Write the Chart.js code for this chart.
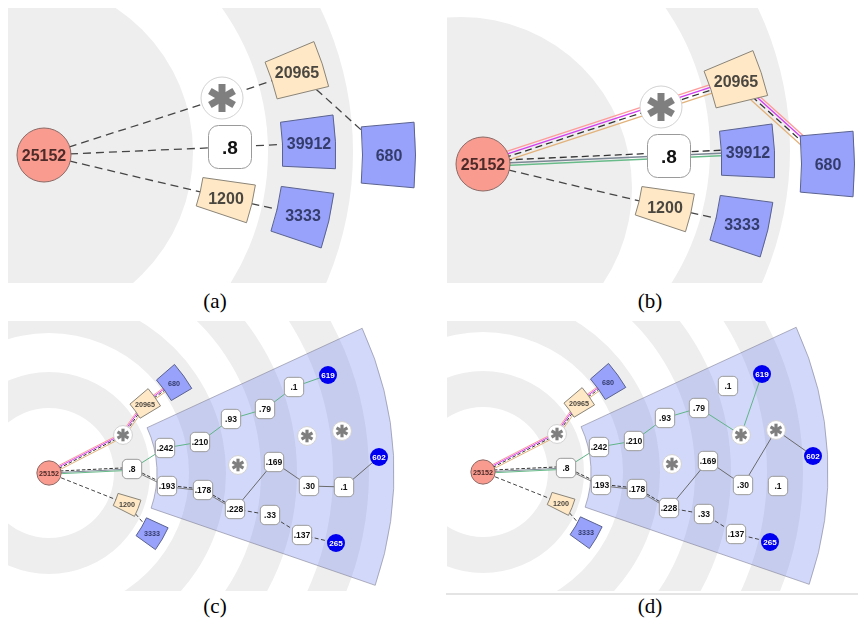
<!DOCTYPE html>
<html lang="fr">
<head>
<meta charset="utf-8">
<title>Arbres radiaux (a)-(d)</title>
<script src="https://cdn.jsdelivr.net/npm/chart.js@4.4.1/dist/chart.umd.min.js"></script>
<style>
  html, body { margin: 0; padding: 0; background: #fff; }
  body { position: relative; width: 858px; height: 629px; overflow: hidden; }
  canvas { position: absolute; }
  .legende { position: absolute; width: 80px; margin-left: -40px; text-align: center;
             font-family: "Liberation Serif", "Times New Roman", serif; font-size: 21px; line-height: 24px; color: #000; }
  .filet { position: absolute; left: 446px; top: 593px; width: 412px; height: 2px; background: #e4e4e4; }
</style>
</head>
<body>
<canvas id="panneauA"></canvas>
<canvas id="panneauB"></canvas>
<canvas id="panneauC"></canvas>
<canvas id="panneauD"></canvas>
<div class="filet"></div>
<div class="legende" style="left:215px; top:289px">(a)</div>
<div class="legende" style="left:650px; top:289px">(b)</div>
<div class="legende" style="left:215px; top:594px">(c)</div>
<div class="legende" style="left:650px; top:594px">(d)</div>
<script>
/* ==========================================================================
   1. DONNÉES (coordonnées relatives au noeud racine, en px)
   ========================================================================== */

// Panneaux (a) et (b) : même disposition des noeuds
const noeudsAB = ['25152', '*', '20965', '.8', '39912', '680', '1200', '3333'];
const genresAB = ['racine', 'etoile', 'beige', 'valeur', 'bleu', 'bleu', 'beige', 'bleu'];
const xAB = [0, 178, 253, 186, 265, 345, 182, 259];
const yAB = [0, -57, -83, -8, -12, 0, 43, 60];

const aretesA = [[0, 1, 'tirets'], [1, 2, 'tirets'], [2, 5, 'tirets'], [0, 3, 'tirets'],
                 [3, 4, 'tirets'], [0, 6, 'tirets'], [6, 7, 'tirets']];
const aretesB = [[0, 2, 'rose'], [2, 5, 'rose'], [0, 4, 'vertGris'], [0, 6, 'tirets'], [6, 7, 'tirets']];

// Panneaux (c) et (d)
const noeudsCD = ['25152', '*', '20965', '680', '.8', '1200', '3333', '.242', '.210', '.193', '.178',
                  '.93', '.79', '.1', '619', '*', '*', '*', '.169', '.30', '.1', '602',
                  '.228', '.33', '.137', '265'];
const genresCD = ['racine', 'etoile', 'beige', 'bleu', 'valeur', 'beige', 'bleu', 'valeur', 'valeur', 'valeur', 'valeur',
                  'valeur', 'valeur', 'valeur', 'feuille', 'etoile', 'etoile', 'etoile', 'valeur', 'valeur', 'valeur', 'feuille',
                  'valeur', 'valeur', 'valeur', 'feuille'];
const xCD = [0, 74, 96, 125, 83, 78, 103, 116, 151, 118, 154, 182, 216, 245, 279, 189, 258, 293, 225, 260, 295, 330, 186, 221, 253, 287];
const yCD = [0, -38, -69, -90, -4, 31, 60, -25, -31, 13, 17, -54, -64, -86, -98, -8, -37, -42, -11, 13, 14, -16, 36, 42, 62, 70];

const aretesC = [[0, 1, 'rose'], [1, 2, 'rose'], [2, 3, 'rose'], [0, 4, 'vertGris'], [0, 5, 'tirets'], [5, 6, 'tirets'],
                 [4, 7, 'vert'], [7, 8, 'vert'], [8, 11, 'vert'], [11, 12, 'vert'], [12, 13, 'vert'], [13, 14, 'vert'],
                 [4, 9, 'grisTirets'], [9, 10, 'grisTirets'], [10, 22, 'grisTirets'],
                 [22, 18, 'gris'], [18, 19, 'gris'], [19, 20, 'gris'], [20, 21, 'gris'],
                 [22, 23, 'tirets'], [23, 24, 'tirets'], [24, 25, 'tirets']];
const aretesD = [[0, 1, 'rose'], [1, 2, 'rose'], [2, 3, 'rose'], [0, 4, 'vertGris'], [0, 5, 'tirets'], [5, 6, 'tirets'],
                 [4, 7, 'vert'], [7, 8, 'vert'], [8, 11, 'vert'], [11, 12, 'vert'], [12, 16, 'vert'], [16, 14, 'vert'],
                 [4, 9, 'grisTirets'], [9, 10, 'grisTirets'], [10, 22, 'grisTirets'],
                 [22, 18, 'gris'], [18, 19, 'gris'], [19, 17, 'gris'], [17, 21, 'gris'],
                 [22, 23, 'tirets'], [23, 24, 'tirets'], [24, 25, 'tirets']];

// Anneaux gris [rayon intérieur, rayon extérieur] et leur centre (relatif à la racine)
const anneauxA = [[0, 173], [248, 333]];
const centresA = [[-24, -3], [-24, -3]];
const anneauxB = [[0, 171], [249, 329]];
const centresB = [[-22, 24], [-22, -14]];
const anneauxCD = [[65, 101], [140, 177], [212, 248], [284, 320]];
const centresCD = [[0, 0], [0, 0], [0, 0], [0, 0]];

/* ==========================================================================
   2. STYLES
   ========================================================================== */
const traits = {
    tirets:     [{ couleur: '#454545', tirets: [8, 5], decalage: 0 }],
    rose:       [{ couleur: '#ff9a9a', decalage: -4.5 }, { couleur: '#d63cf0', decalage: -2 },
                 { couleur: '#333333', tirets: [7, 4], decalage: 0.8 }, { couleur: '#e3b27a', decalage: 4 }],
    vertGris:   [{ couleur: '#333333', tirets: [7, 4], decalage: -3 }, { couleur: '#7b8794', decalage: 0 },
                 { couleur: '#69bb8a', decalage: 2.5 }],
    vert:       [{ couleur: '#5fb487', decalage: 0 }],
    gris:       [{ couleur: '#6a6a6a', decalage: 0 }],
    grisTirets: [{ couleur: '#333333', tirets: [7, 4], decalage: -1.5 }, { couleur: '#7a7a7a', decalage: 1.5 }]
};

// hauteur tangentielle des tuiles (px à l'échelle 1)
const hauteurTuile = { '20965': 43, '39912': 49, '680': 61, '1200': 34, '3333': 51 };

const panneaux = [
    { id: 'panneauA', gauche: 8, haut: 8, largeur: 422, hauteur: 275, racine: [44, 155], k: 1, kTrait: 1, epaisseur: 1.3,
      noeuds: noeudsAB, genres: genresAB, xs: xAB, ys: yAB, aretes: aretesA,
      anneaux: anneauxA, centres: centresA, secteur: null },
    { id: 'panneauB', gauche: 447, haut: 8, largeur: 411, hauteur: 275, racine: [483, 164], k: 1, kTrait: 1, epaisseur: 1.3,
      noeuds: noeudsAB, genres: genresAB, xs: xAB, ys: yAB, aretes: aretesB,
      anneaux: anneauxB, centres: centresB, secteur: null },
    { id: 'panneauC', gauche: 8, haut: 321, largeur: 422, hauteur: 270, racine: [49, 473], k: 0.45, kTrait: 0.5, epaisseur: 1,
      noeuds: noeudsCD, genres: genresCD, xs: xCD, ys: yCD, aretes: aretesC,
      anneaux: anneauxCD, centres: centresCD, secteur: { rInt: 108, rExt: 345, debut: -24.8, fin: 19 } },
    { id: 'panneauD', gauche: 447, haut: 321, largeur: 411, hauteur: 270, racine: [483, 472], k: 0.45, kTrait: 0.5, epaisseur: 1,
      noeuds: noeudsCD, genres: genresCD, xs: xCD, ys: yCD, aretes: aretesD,
      anneaux: anneauxCD, centres: centresCD, secteur: { rInt: 108, rExt: 345, debut: -24.8, fin: 19 } }
];

/* ==========================================================================
   3. DESSIN
   ========================================================================== */
const POLICE = '"Liberation Sans", Arial, sans-serif';

function ecrire(ctx, texte, x, y, taille, couleur) {
    ctx.font = `bold ${taille}px ${POLICE}`;
    ctx.fillStyle = couleur;
    ctx.textAlign = 'center';
    ctx.textBaseline = 'alphabetic';
    const m = ctx.measureText(texte);
    ctx.fillText(texte, x, y + (m.actualBoundingBoxAscent - m.actualBoundingBoxDescent) / 2);
}

function dessinerNoeud(ctx, genre, texte, x, y, k, cx, cy) {
    ctx.save();
    ctx.setLineDash([]);
    ctx.lineWidth = 1;
    if (genre === 'racine') {
        ctx.beginPath();
        ctx.arc(x, y, 27 * k, 0, 2 * Math.PI);
        ctx.fillStyle = '#fa9b90';
        ctx.fill();
        ctx.strokeStyle = '#8c6a66';
        ctx.stroke();
        ecrire(ctx, texte, x, y, 16 * k, '#4d2b28');
    } else if (genre === 'etoile') {
        ctx.beginPath();
        ctx.arc(x, y, 21 * k, 0, 2 * Math.PI);
        ctx.fillStyle = '#ffffff';
        ctx.fill();
        ctx.strokeStyle = '#d2d2d2';
        ctx.stroke();
        // astérisque à six branches
        ctx.strokeStyle = '#7f7f7f';
        ctx.lineWidth = 7 * k;
        const a = 14 * k;
        [90, 30, -30].forEach(deg => {
            const t = deg * Math.PI / 180;
            ctx.beginPath();
            ctx.moveTo(x - a * Math.cos(t), y - a * Math.sin(t));
            ctx.lineTo(x + a * Math.cos(t), y + a * Math.sin(t));
            ctx.stroke();
        });
    } else if (genre === 'beige' || genre === 'bleu') {
        // tuile en forme de portion d'anneau, orientée depuis la racine
        const r = Math.hypot(x - cx, y - cy);
        const th = Math.atan2(y - cy, x - cx);
        const w = 53 * k;
        const d = (hauteurTuile[texte] * k) / 2 / r;
        ctx.beginPath();
        ctx.arc(cx, cy, r + w / 2, th - d, th + d);
        ctx.arc(cx, cy, r - w / 2, th + d, th - d, true);
        ctx.closePath();
        ctx.fillStyle = genre === 'beige' ? '#ffe8c6' : '#98a2fb';
        ctx.fill();
        ctx.strokeStyle = genre === 'beige' ? '#8a8478' : '#5a628f';
        ctx.stroke();
        ecrire(ctx, texte, x, y, 16 * k, genre === 'beige' ? '#4a4640' : '#343c6c');
    } else if (genre === 'valeur') {
        const s = 43 * k;
        ctx.beginPath();
        ctx.roundRect(x - s / 2, y - s / 2, s, s, 10 * k);
        ctx.fillStyle = '#ffffff';
        ctx.fill();
        ctx.strokeStyle = '#9a9a9a';
        ctx.stroke();
        ecrire(ctx, texte, x, y, 19 * k, '#111111');
    } else if (genre === 'feuille') {
        ctx.beginPath();
        ctx.arc(x, y, 20 * k, 0, 2 * Math.PI);
        ctx.fillStyle = '#0000f0';
        ctx.fill();
        ecrire(ctx, texte, x, y, 18 * k, '#ffffff');
    }
    ctx.restore();
}

const configDe = chart => panneaux.find(p => p.id === chart.canvas.id);

const pluginSchema = {
    id: 'schema',
    beforeDatasetsDraw(chart) {
        const p = configDe(chart);
        const ctx = chart.ctx;
        const sx = chart.scales.x, sy = chart.scales.y;
        const cx = sx.getPixelForValue(0), cy = sy.getPixelForValue(0);
        const u = sx.getPixelForValue(1) - cx;

        ctx.save();
        // anneaux gris
        ctx.fillStyle = '#eeeeee';
        p.anneaux.forEach(([r1, r2], n) => {
            const ax = sx.getPixelForValue(p.centres[n][0]), ay = sy.getPixelForValue(p.centres[n][1]);
            ctx.beginPath();
            ctx.arc(ax, ay, r2 * u, 0, 2 * Math.PI);
            if (r1 > 0) {
                ctx.moveTo(ax + r1 * u, ay);
                ctx.arc(ax, ay, r1 * u, 0, 2 * Math.PI, true);
            }
            ctx.fill('evenodd');
        });

        // secteur bleu translucide
        if (p.secteur) {
            const s = p.secteur;
            const a0 = s.debut * Math.PI / 180, a1 = s.fin * Math.PI / 180;
            ctx.beginPath();
            ctx.arc(cx, cy, s.rExt * u, a0, a1);
            ctx.arc(cx, cy, s.rInt * u, a1, a0, true);
            ctx.closePath();
            ctx.fillStyle = 'rgba(105, 125, 240, 0.3)';
            ctx.fill();
            ctx.strokeStyle = 'rgba(120, 120, 140, 0.55)';
            ctx.lineWidth = 1;
            ctx.stroke();
        }

        // arêtes (faisceaux de traits parallèles)
        const pts = chart.getDatasetMeta(0).data;
        p.aretes.forEach(([i, j, style]) => {
            const a = pts[i], b = pts[j];
            const L = Math.hypot(b.x - a.x, b.y - a.y);
            const nx = -(b.y - a.y) / L, ny = (b.x - a.x) / L;
            traits[style].forEach(t => {
                const o = t.decalage * p.kTrait;
                ctx.beginPath();
                ctx.moveTo(a.x + nx * o, a.y + ny * o);
                ctx.lineTo(b.x + nx * o, b.y + ny * o);
                ctx.strokeStyle = t.couleur;
                ctx.lineWidth = p.epaisseur;
                ctx.setLineDash((t.tirets || []).map(v => v * p.kTrait));
                ctx.stroke();
            });
        });
        ctx.restore();
    },
    afterDatasetsDraw(chart) {
        const p = configDe(chart);
        const ctx = chart.ctx;
        const cx = chart.scales.x.getPixelForValue(0), cy = chart.scales.y.getPixelForValue(0);
        const pts = chart.getDatasetMeta(0).data;
        pts.forEach((pt, i) => dessinerNoeud(ctx, p.genres[i], p.noeuds[i], pt.x, pt.y, p.k, cx, cy));
    }
};

/* ==========================================================================
   4. CRÉATION DES GRAPHIQUES
   ========================================================================== */
panneaux.forEach(p => {
    const canvas = document.getElementById(p.id);
    canvas.width = p.largeur;
    canvas.height = p.hauteur;
    canvas.style.left = p.gauche + 'px';
    canvas.style.top = p.haut + 'px';

    const x0 = p.gauche - p.racine[0], y0 = p.haut - p.racine[1];

    new Chart(canvas, {
        type: 'scatter',
        data: {
            datasets: [{
                data: p.xs.map((x, i) => ({ x: x, y: p.ys[i] })),
                pointRadius: 0,
                pointHoverRadius: 0
            }]
        },
        options: {
            responsive: false,
            animation: false,
            events: [],
            layout: { padding: 0 },
            plugins: { legend: { display: false }, tooltip: { enabled: false } },
            scales: {
                x: { type: 'linear', display: false, min: x0, max: x0 + p.largeur },
                y: { type: 'linear', display: false, reverse: true, min: y0, max: y0 + p.hauteur }
            }
        },
        plugins: [pluginSchema]
    });
});
</script>
</body>
</html>
